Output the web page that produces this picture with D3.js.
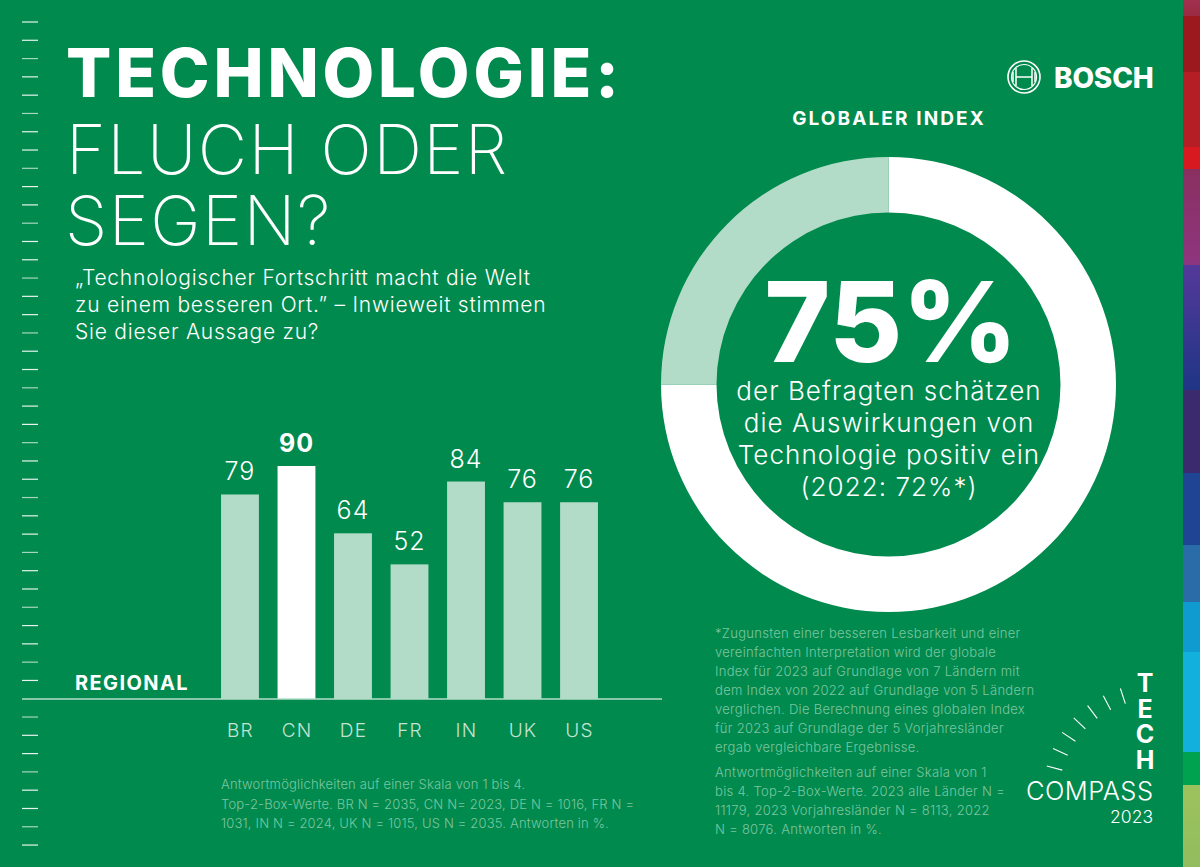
<!DOCTYPE html>
<html><head><meta charset="utf-8">
<script src="https://cdnjs.cloudflare.com/ajax/libs/d3/7.8.5/d3.min.js"></script>
<style>
html,body{margin:0;padding:0;background:#018a4e;overflow:hidden}
svg{display:block}
text{font-family:Inter,Roboto,sans-serif}
</style></head><body>
<svg id="c" width="1200" height="867"></svg>
<script>
const regions = ["BR","CN","DE","FR","IN","UK","US"];
const regionalValues = [79,90,64,52,84,76,76];
const globalShares = [75,25];
const stripStops = [0,16,72,147,169,265,390,473,545,602,652,752,785,867];
const stripTop = ["#a03050","#9c1a1e","#b41e24","#d91920","#8a3060","#54399a","#3c2a6e","#1f4494","#2a6ca8","#0f9ad0","#12b0dc","#00a24f","#9cc25c"];
const stripEnd = ["#9a2a42","#9c1a1e","#b41e24","#d91920","#8e3580","#1f3585","#3c2a6e","#1f4494","#2a6ca8","#0f9ad0","#12b0dc","#00a24f","#92bd5e"];
const subtitleLines = ["„Technologischer Fortschritt macht die Welt","zu einem besseren Ort.” – Inwieweit stimmen","Sie dieser Aussage zu?"];
const centerLines = ["der Befragten schätzen","die Auswirkungen von","Technologie positiv ein","(2022: 72%*)"];
const noteLeft = ["Antwortmöglichkeiten auf einer Skala von 1 bis 4.","Top-2-Box-Werte. BR N = 2035, CN N= 2023, DE N = 1016, FR N =","1031, IN N = 2024, UK N = 1015, US N = 2035.  Antworten in %."];
const noteRight1 = ["*Zugunsten einer besseren Lesbarkeit und einer","vereinfachten Interpretation wird der globale","Index für 2023 auf Grundlage von 7 Ländern mit","dem Index von 2022 auf Grundlage von 5 Ländern","verglichen. Die Berechnung eines globalen Index","für 2023 auf Grundlage der 5 Vorjahresländer","ergab vergleichbare Ergebnisse."];
const noteRight2 = ["Antwortmöglichkeiten auf einer Skala von 1","bis 4. Top-2-Box-Werte. 2023 alle Länder N =","11179, 2023 Vorjahresländer N = 8113, 2022","N = 8076. Antworten in %."];
const techLetters = ["T","E","C","H"];

const svg = d3.select("#c");
const G="#018a4e", L="#b3dcc8", W="#fff", N="#7cc6a0";
svg.append("rect").attr("width",1200).attr("height",867).attr("fill",G);

// colour strip
const defs=svg.append("defs");
stripTop.forEach((c,i)=>{
 const gr=defs.append("linearGradient").attr("id","s"+i).attr("x1",0).attr("x2",0).attr("y1",0).attr("y2",1);
 gr.append("stop").attr("offset",0).attr("stop-color",c);
 gr.append("stop").attr("offset",1).attr("stop-color",stripEnd[i]);
 svg.append("rect").attr("x",1183).attr("y",stripStops[i]).attr("width",17).attr("height",stripStops[i+1]-stripStops[i]).attr("fill",`url(#s${i})`);
});

// ruler ticks
d3.range(46).forEach(i=>{const y=22+i*18.29; if(Math.abs(y-699)<3) return;
 svg.append("line").attr("x1",22).attr("x2",38).attr("y1",y).attr("y2",y).attr("stroke",W).attr("stroke-opacity",i%3==2?0.65:0.9).attr("stroke-width",1.2);});

// text helper
function lines(arr,x,y,dy,size,fill,weight,anchor,ls){
 arr.forEach((t,i)=>svg.append("text").attr("x",x).attr("y",y+i*dy).attr("font-size",size).attr("fill",fill).attr("font-weight",weight||400).attr("text-anchor",anchor||"start").attr("letter-spacing",ls||0).text(t));
}
lines(["TECHNOLOGIE:"],66,97,0,67,W,800,"start",3.8);
lines(["FLUCH ODER"],66,174,0,68,W,200,"start",1.4);
lines(["SEGEN?"],65,245,0,68,W,200,"start",1.4);
lines(subtitleLines,75,285,27,21,W,300,"start",0.77);

// bars
const x=d3.scaleBand().domain(regions).range([212,607]).paddingInner(0.33).paddingOuter(0.16);
const y=d3.scaleLinear().domain([0,90]).range([699,466]);
regions.forEach((r,i)=>{const v=regionalValues[i],cn=r==="CN";
 svg.append("rect").attr("x",x(r)).attr("y",y(v)).attr("width",x.bandwidth()).attr("height",y(0)-y(v)).attr("fill",cn?W:L);
 svg.append("text").attr("x",x(r)+x.bandwidth()/2).attr("y",y(v)-14).attr("text-anchor","middle").attr("font-size",25).attr("font-weight",cn?700:300).attr("letter-spacing",1).attr("fill",W).text(v);
 svg.append("text").attr("x",x(r)+x.bandwidth()/2+0.5).attr("y",737).attr("text-anchor","middle").attr("font-size",19).attr("font-weight",300).attr("letter-spacing",1.2).attr("fill","#c3e4d4").text(r);
});
svg.append("line").attr("x1",22).attr("x2",662).attr("y1",699).attr("y2",699).attr("stroke",L).attr("stroke-width",1.5);
lines(["REGIONAL"],75,690,0,20,W,700,"start",1.4);

// donut
const arc=d3.arc().innerRadius(172).outerRadius(227.5);
const pie=d3.pie().sort(null)(globalShares);
const g=svg.append("g").attr("transform","translate(888.5,384.5)");
g.selectAll("path").data(pie).join("path").attr("d",arc).attr("fill",(d,i)=>i==0?W:L);
lines(["GLOBALER INDEX"],889,125,0,19,W,700,"middle",2.1);
lines(["75%"],891,362,0,112,W,800,"middle");
lines(centerLines,889,400,32,26,W,300,"middle",1.05);

// notes
lines(noteLeft,221,789,19.5,13,N,300,"start",0.18);
lines(noteRight1,715,638,19,13,N,300,"start",0.3);
lines(noteRight2,715,777,19,13,N,300,"start",0.3);

// logo
const lg=svg.append("g").attr("transform","translate(1024,77)").attr("fill","none").attr("stroke",W);
lg.append("circle").attr("r",16).attr("stroke-width",1.6);
lg.append("circle").attr("r",12.5).attr("stroke-width",1.2);
lg.append("path").attr("stroke-width",1.5).attr("d","M-8,-9V9M8,-9V9M-8,0H8M-11,-5V5M11,-5V5");
lines(["BOSCH"],1054,88,0,28,W,800,"start",-0.2);

// tech compass dial
const dial=d3.scaleLinear().domain([0,6]).range([15,72]);
d3.range(7).forEach(i=>{const a=dial(i)*Math.PI/180;
 svg.append("line").attr("stroke",W).attr("stroke-width",1.1)
 .attr("x1",1155-Math.cos(a)*112).attr("y1",795-Math.sin(a)*112)
 .attr("x2",1155-Math.cos(a)*96).attr("y2",795-Math.sin(a)*96);
});
const tech=svg.append("text").attr("font-size",25).attr("font-weight",700).attr("fill",W).attr("text-anchor","middle");
techLetters.forEach((t,i)=>tech.append("tspan").attr("x",1145).attr("y",692+i*25.7).text(t));
lines(["COMPASS"],1153.5,800,0,25.5,W,300,"end",0.45);
lines(["2023"],1153,823,0,17.5,W,300,"end");
</script></body></html>
